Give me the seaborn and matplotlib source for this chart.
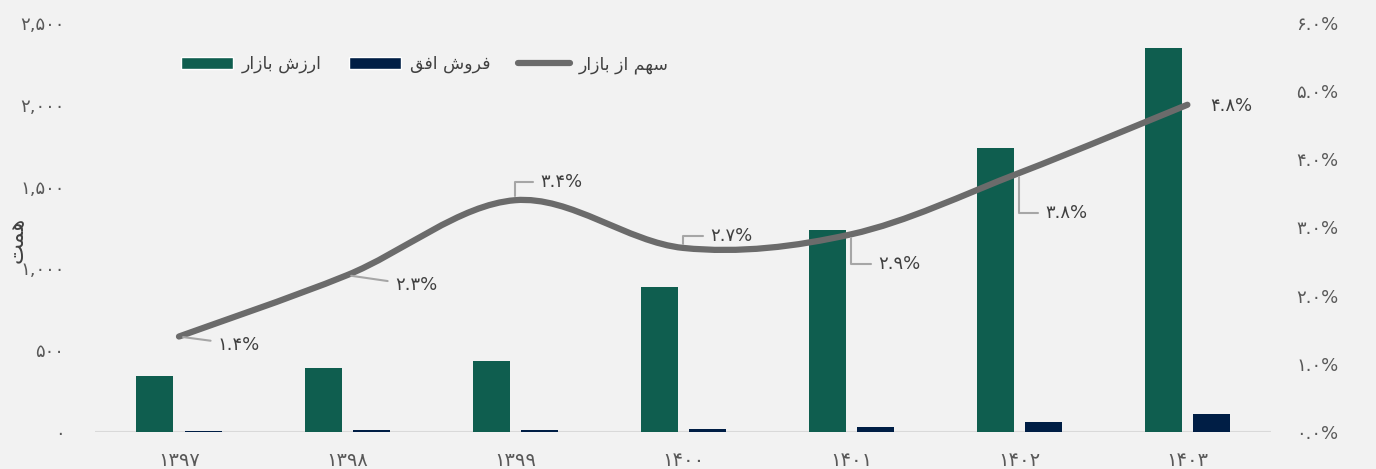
import pandas as pd
import matplotlib.pyplot as plt
import seaborn as sns
from matplotlib.patches import Patch, PathPatch
from matplotlib.lines import Line2D
from matplotlib.path import Path

sns.set_style('white')
plt.rcParams['font.family'] = ['DejaVu Sans']

years = ['۱۳۹۷', '۱۳۹۸', '۱۳۹۹', '۱۴۰۰', '۱۴۰۱', '۱۴۰۲', '۱۴۰۳']
market_value = [342, 391, 434, 886, 1234, 1735, 2347]
ofogh_sales = [5, 9, 14, 20, 32, 61, 110]
market_share = [1.4, 2.3, 3.4, 2.7, 2.9, 3.8, 4.8]

series_names = ['ارزش بازار', 'فروش افق', 'سهم از بازار']
y_label = 'همت'

GREEN = '#0f5e4f'
NAVY = '#001e45'
GREY = '#6b6b6b'
TEXT = '#404040'
BG = '#f2f2f2'

# minimal arabic shaping (matplotlib has no complex text layout)
FORMS = {
    'ا': ('\uFE8D', '\uFE8E', None, None),
    'ب': ('\uFE8F', '\uFE90', '\uFE91', '\uFE92'),
    'ت': ('\uFE95', '\uFE96', '\uFE97', '\uFE98'),
    'ر': ('\uFEAD', '\uFEAE', None, None),
    'ز': ('\uFEAF', '\uFEB0', None, None),
    'س': ('\uFEB1', '\uFEB2', '\uFEB3', '\uFEB4'),
    'ش': ('\uFEB5', '\uFEB6', '\uFEB7', '\uFEB8'),
    'ف': ('\uFED1', '\uFED2', '\uFED3', '\uFED4'),
    'ق': ('\uFED5', '\uFED6', '\uFED7', '\uFED8'),
    'م': ('\uFEE1', '\uFEE2', '\uFEE3', '\uFEE4'),
    'ه': ('\uFEE9', '\uFEEA', '\uFEEB', '\uFEEC'),
    'و': ('\uFEED', '\uFEEE', None, None),
}


def shape(text):
    out = []
    for i, ch in enumerate(text):
        if ch not in FORMS:
            out.append(ch)
            continue
        prev = text[i - 1] if i > 0 else ''
        nxt = text[i + 1] if i + 1 < len(text) else ''
        joins_prev = prev in FORMS and FORMS[prev][2] is not None
        joins_next = FORMS[ch][2] is not None and nxt in FORMS
        iso, fin, ini, med = FORMS[ch]
        if joins_prev and joins_next:
            out.append(med)
        elif joins_prev:
            out.append(fin)
        elif joins_next:
            out.append(ini)
        else:
            out.append(iso)
    return ''.join(out)[::-1]


FA = str.maketrans('0123456789', '۰۱۲۳۴۵۶۷۸۹')


def fa(s):
    return s.translate(FA)


df = pd.DataFrame({
    'year': years * 2,
    'value': market_value + ofogh_sales,
    'series': [series_names[0]] * 7 + [series_names[1]] * 7,
})

fig = plt.figure(figsize=(13.76, 4.69), dpi=100, facecolor=BG)
ax = fig.add_axes([0.069, 0.079, 0.855, 0.872])
ax.set_facecolor('none')

sns.barplot(data=df, x='year', y='value', hue='series', palette=[GREEN, NAVY],
            width=0.572, gap=0.23, legend=False, ax=ax, saturation=1, linewidth=0)

ax.set_xlim(-0.5, 6.5)
ax.set_ylim(0, 2500)
ax.set_yticks(range(0, 2501, 500))
ax.set_yticklabels([fa(f'{v:,}') for v in range(0, 2501, 500)])
ax.set_xlabel('')
ax.set_ylabel(shape(y_label), fontsize=16, color=TEXT)
ax.yaxis.set_label_coords(-0.058, 0.47)
ax.tick_params(axis='y', length=0, pad=22, labelsize=13, labelcolor='#595959')
ax.tick_params(axis='x', length=0, pad=14, labelsize=14, labelcolor='#595959')
ax.axhline(0, color='#d9d9d9', lw=1.5, zorder=0)
for s in ax.spines.values():
    s.set_visible(False)

ax2 = ax.twinx()
ax2.set_ylim(0, 0.06)
ticks = [i / 100 for i in range(7)]
ax2.set_yticks(ticks)
ax2.set_yticklabels([fa(f'{t * 100:.1f}%') for t in ticks])
ax2.tick_params(axis='y', length=0, pad=18, labelsize=13, labelcolor='#595959')
for s in ax2.spines.values():
    s.set_visible(False)

# smoothed share line (bezier through the data points)
xs = list(range(len(market_share)))
ys = [v / 100 for v in market_share]
pts = list(zip(xs, ys))
verts = [pts[0]]
codes = [Path.MOVETO]
for i in range(len(pts) - 1):
    p0 = pts[i - 1] if i > 0 else pts[i]
    p1, p2 = pts[i], pts[i + 1]
    p3 = pts[i + 2] if i + 2 < len(pts) else pts[i + 1]
    c1 = (p1[0] + (p2[0] - p0[0]) / 6, p1[1] + (p2[1] - p0[1]) / 6)
    c2 = (p2[0] - (p3[0] - p1[0]) / 6, p2[1] - (p3[1] - p1[1]) / 6)
    verts += [c1, c2, p2]
    codes += [Path.CURVE4] * 3
ax2.add_patch(PathPatch(Path(verts, codes), facecolor='none', edgecolor=GREY,
                        lw=4.5, capstyle='round', joinstyle='round', zorder=3))

# data labels, offsets in pixels
offsets = [(39, -8), (48, -10), (25, 18), (27, 12), (27, -30), (26, -40), (23, -1)]
styles = ['arc3', 'arc3'] + ['angle,angleA=0,angleB=90,rad=0'] * 4
for x, v, (dx, dy) in zip(xs, market_share, offsets):
    arrow = None
    if x < 6:
        arrow = dict(arrowstyle='-', color='#a6a6a6', lw=1.5, shrinkA=3, shrinkB=3,
                     connectionstyle=styles[x])
    ax2.annotate(fa(f'{v:.1f}%'), xy=(x, v / 100), xytext=(dx, dy),
                 textcoords='offset pixels', ha='left', va='center',
                 fontsize=13, color=TEXT, arrowprops=arrow, zorder=4)

handles = [
    Patch(facecolor=GREEN),
    Patch(facecolor=NAVY),
    Line2D([0], [0], color=GREY, lw=4.5, solid_capstyle='round'),
]
fig.legend(handles, [shape(n) for n in series_names], loc='upper left',
           bbox_to_anchor=(0.12, 0.916), ncol=3, frameon=False, fontsize=12.5,
           handlelength=3.0, handletextpad=0.5, columnspacing=1.6,
           labelcolor=TEXT)

fig.savefig('out.png', dpi=100, facecolor=BG)
